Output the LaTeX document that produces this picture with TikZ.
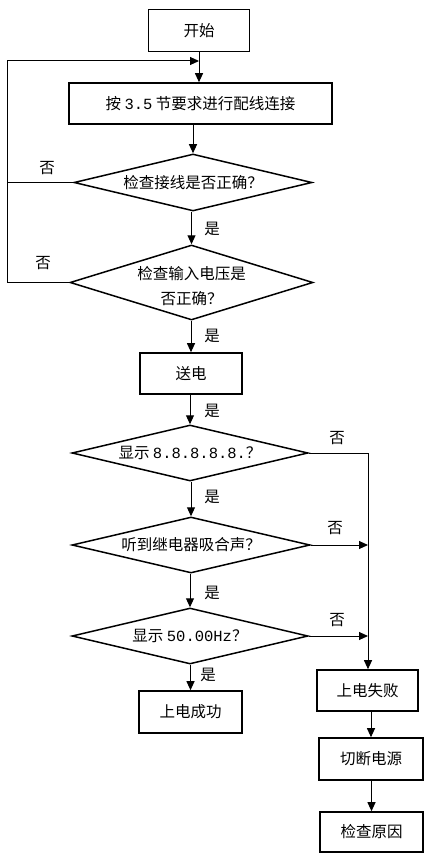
\documentclass[tikz,border=0pt]{standalone}
\usepackage{fontspec}
\setmainfont{Noto Sans CJK SC}
\newfontfamily\latmono{Liberation Mono}
\usetikzlibrary{shapes.geometric,arrows.meta}
\begin{document}
\begin{tikzpicture}[x=1pt,y=-1pt,
  every node/.style={font=\fontsize{15.5}{25}\selectfont, inner sep=0pt},
  box/.style={draw, line width=1.6pt, minimum width=101pt, minimum height=42pt},
  dia/.style={draw, diamond, line width=1.5pt, aspect=4, minimum width=238pt, minimum height=57pt},
  conn/.style={line width=1pt},
  arr/.style={conn, -{Triangle[length=9pt,width=8pt]}},
  lbl/.style={}
]
\useasboundingbox (0,0) rectangle (424,853);

\node[box] (start) at (199,30.5) {开始};
\node[box, minimum width=263pt, minimum height=41pt] (proc) at (200.5,103.5) {按 {\latmono 3.5} 节要求进行配线连接};
\node[dia] (d1) at (193,182.5) {检查接线是否正确？};
\node[dia, minimum width=243pt, minimum height=75pt] (d2) at (191.5,282.5) {};
\node[align=center] (d2t) at (191.5,286.5) {检查输入电压是\\否正确？};
\node[box, minimum width=102pt, minimum height=41pt] (send) at (191,373.5) {送电};
\node[dia, minimum width=236pt, minimum height=56pt] (d3) at (190,453) {显示 {\latmono 8.8.8.8.8.}？};
\node[dia, minimum height=56pt] (d4) at (191,545) {听到继电器吸合声？};
\node[dia, minimum width=236pt, minimum height=56pt] (d5) at (190,636) {显示 {\latmono 50.00Hz}？};
\node[box, minimum width=103pt] (ok) at (190.5,712) {上电成功};
\node[box, minimum height=41pt] (fail) at (367.5,690.5) {上电失败};
\node[box, minimum width=104pt] (cut) at (371,759) {切断电源};
\node[box, minimum width=103pt, minimum height=40pt] (chk) at (371.5,832) {检查原因};

\coordinate (lft) at (7,61);
\coordinate (rgt) at (368,453);

% main flow
\draw[arr] (start.south) -- (start.south |- proc.north);
\draw[arr] (d1.north |- proc.south) -- (d1.north);
\draw[arr] (d2.north |- d1.south) -- (d2.north);
\draw[arr] (send.north |- d2.south) -- (send.north);
\draw[arr] (d3.north |- send.south) -- (d3.north);
\draw[arr] (d4.north |- d3.south) -- (d4.north);
\draw[arr] (d5.north |- d4.south) -- (d5.north);
\draw[arr] (ok.north |- d5.south) -- (ok.north);

% feedback
\draw[conn] (d1.west) -- (d1.west -| lft);
\draw[arr] (d2.west) -- (d2.west -| lft) -- (lft) -- (lft -| start.south);

% failure branch
\draw[arr] (d3.east) -- (d3.east -| rgt) -- (rgt |- fail.north);
\draw[arr] (d4.east) -- (d4.east -| rgt);
\draw[arr] (d5.east) -- (d5.east -| rgt);
\draw[arr] (cut.north |- fail.south) -- (cut.north);
\draw[arr] (chk.north |- cut.south) -- (chk.north);

% labels
\node[lbl] (n1) at (47,168) {否};
\node[lbl] (n2) at (43,263) {否};
\node[lbl] (n3) at (337,438) {否};
\node[lbl] (n4) at (335,528) {否};
\node[lbl] (n5) at (337,620) {否};
\node[lbl] (y1) at (212,229) {是};
\node[lbl] (y2) at (212,336) {是};
\node[lbl] (y3) at (212,411) {是};
\node[lbl] (y4) at (212,497) {是};
\node[lbl] (y5) at (212,593) {是};
\node[lbl] (y6) at (208,675) {是};
\end{tikzpicture}
\end{document}
